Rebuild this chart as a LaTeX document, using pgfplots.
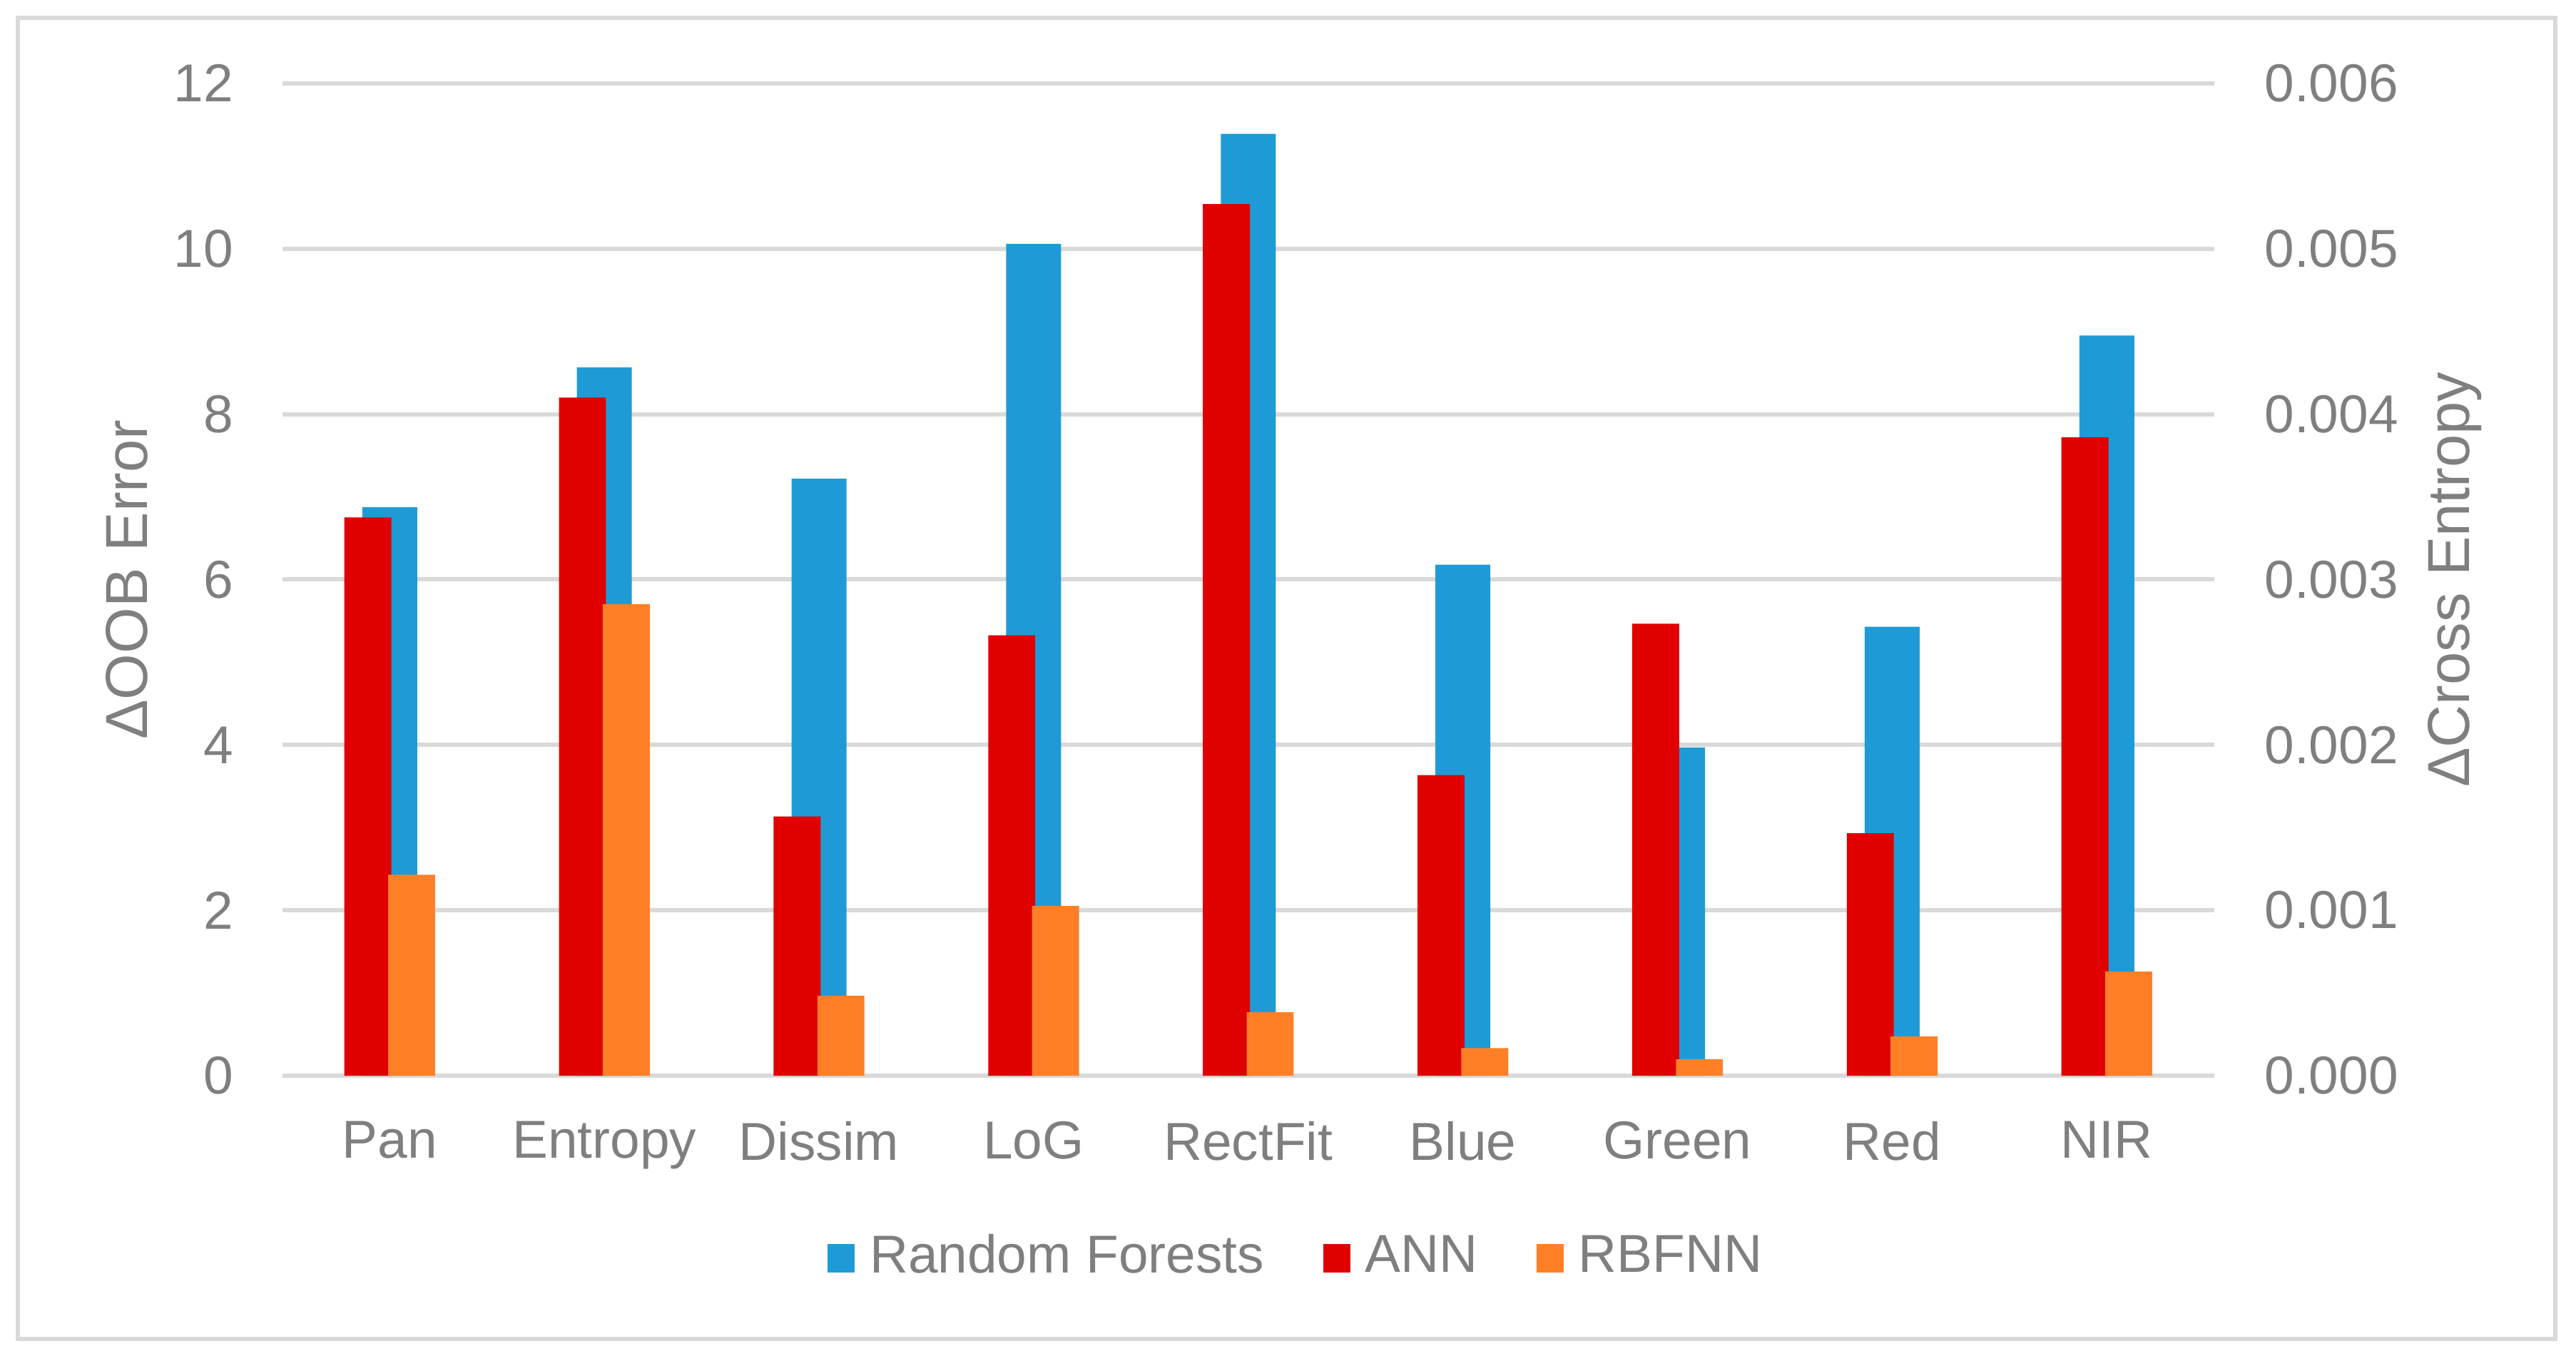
\documentclass[border=0pt]{standalone}
\usepackage{fontspec}
\setmainfont{Liberation Sans}
\usepackage{pgfplots}
\pgfplotsset{compat=1.18}
\usepackage{pgfplotstable}

\definecolor{rfblue}{HTML}{1E9BD7}
\definecolor{annred}{HTML}{E00000}
\definecolor{rbforange}{HTML}{FF7F27}
\definecolor{txtgray}{HTML}{7F7F7F}
\definecolor{gridgray}{HTML}{D9D9D9}

% importance per feature: RF on left axis, ANN/RBFNN on right axis
\pgfplotstableread{
x rf ann rbf
0 6.875 0.003376 0.001215
1 8.565 0.00410 0.00285
2 7.22 0.001567 0.000484
3 10.06 0.002663 0.001026
4 11.39 0.00527 0.000383
5 6.18 0.001818 0.000167
6 3.97 0.002733 0.000100
7 5.43 0.001466 0.000238
8 8.95 0.00386 0.000629
}\importance

\pgfplotsset{
  sq legend/.style={legend image code/.code={\fill[##1] (0pt,-2.5pt) rectangle (4.8pt,2.5pt);}},
  base/.style={
    scale only axis, width=342pt, height=175.7pt,
    xmin=-0.5, xmax=8.5, ymin=0,
    tick style={draw=none}, major tick length=0pt,
    axis line style={draw=none},
    ticklabel style={font=\fontsize{9.45}{11}\selectfont, text=txtgray},
    /pgf/number format/assume math mode=true,
  },
}

\begin{document}
\begin{tikzpicture}
\begin{axis}[base, name=ax1,
  ymax=12, ytick={0,2,4,6,8,10,12},
  ytick pos=left,
  xtick={0,...,8},
  xticklabels={Pan,Entropy,Dissim,LoG,RectFit,Blue,Green,Red,NIR},
  xtick pos=bottom,
  ymajorgrids, grid style={gridgray, line width=0.75pt},
  yticklabel style={xshift=-5.2pt},
  xticklabel style={yshift=-4.6pt},
]
\addplot[ybar, bar width=0.256, bar shift=0, fill=rfblue, draw=none] table[x=x, y=rf] {\importance};
\end{axis}

\begin{axis}[base,
  ymax=0.006, ytick={0,0.001,0.002,0.003,0.004,0.005,0.006},
  hide x axis, ytick pos=right, yticklabel pos=right,
  scaled y ticks=false,
  yticklabel style={/pgf/number format/.cd, fixed, fixed zerofill, precision=3, /tikz/.cd, xshift=5.4pt},
  legend columns=3, legend cell align=left,
  legend style={at={(0.5242,0)}, anchor=center, yshift=-32.3pt,
    draw=none, fill=none, font=\fontsize{9.45}{11}\selectfont, text=txtgray,
    nodes={inner sep=0pt}, column sep=0pt,
    /tikz/every odd column/.append style={column sep=2.65pt},
    /tikz/every even column/.append style={column sep=10.4pt}},
]
\addlegendimage{sq legend, fill=rfblue, draw=none}
\addplot[ybar, bar width=0.219, bar shift=-0.102, fill=annred, draw=none, sq legend] table[x=x, y=ann] {\importance};
\addplot[ybar, bar width=0.219, bar shift=0.102, fill=rbforange, draw=none, sq legend] table[x=x, y=rbf] {\importance};
\legend{Random Forests, ANN, RBFNN}
\end{axis}

\node[rotate=90, anchor=base, font=\fontsize{10.5}{12.5}\selectfont, text=txtgray] at ([xshift=-23.87pt]ax1.west) {ΔOOB Error};
\node[rotate=90, anchor=base, font=\fontsize{10.5}{12.5}\selectfont, text=txtgray] at ([xshift=45.2pt]ax1.east) {ΔCross Entropy};

\draw[gridgray, line width=0.7pt] ([shift={(-46.86pt,-46.6pt)}]ax1.south west) rectangle ([shift={(402.4pt,187.3pt)}]ax1.south west);
\path ([shift={(-50.0pt,-50.4pt)}]ax1.south west) rectangle ([shift={(406.05pt,190.46pt)}]ax1.south west);
\end{tikzpicture}
\end{document}
